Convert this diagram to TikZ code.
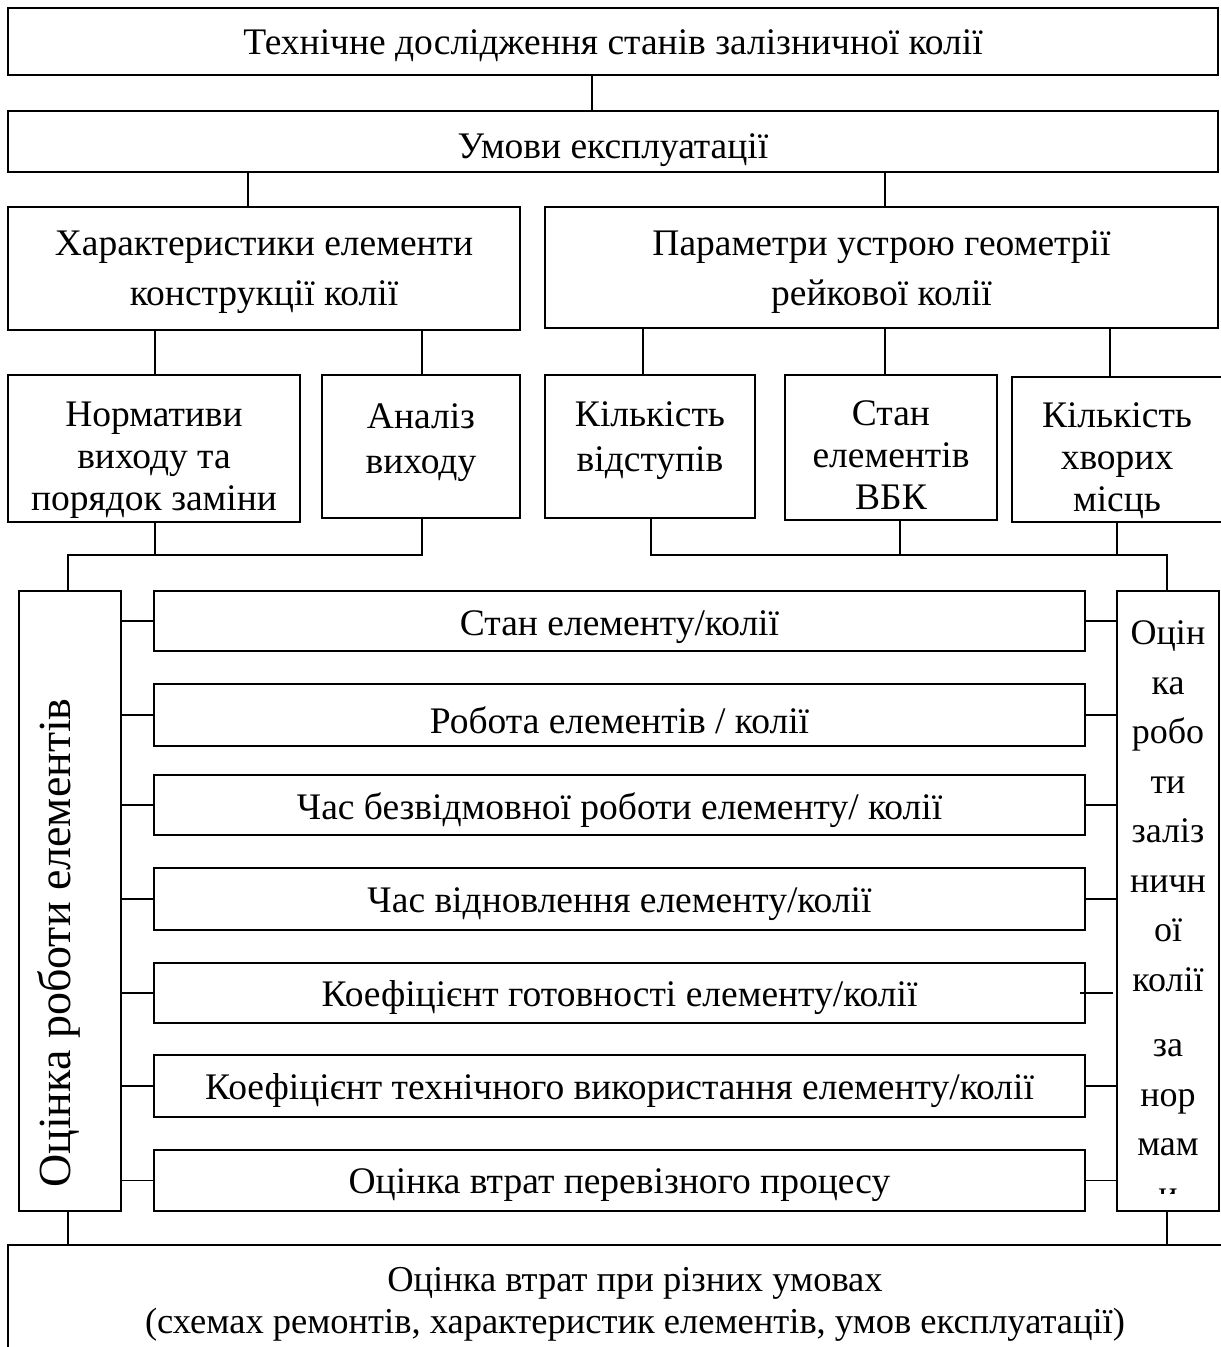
\documentclass[tikz,border=0pt]{standalone}
\usepackage{fontspec}
\setmainfont{Liberation Serif}
% #1 name, #2-#5 corners, #6 text centre y, #7 text
\newcommand\mybox[7]{%
  \node[box, minimum width={(#4)-(#2)}, minimum height={(#5)-(#3)}] (#1) at ({((#2)+(#4))/2},{((#3)+(#5))/2}) {};
  \node[txt] (#1-t) at (#1.center |- 0,#6) {#7};}
\begin{document}
\begin{tikzpicture}[x=1pt,y=-1pt,
  box/.style={draw, line width=1.9pt, inner sep=0pt, outer sep=0pt},
  txt/.style={inner sep=0pt, outer sep=0pt, align=center, font=\fontsize{37.5}{42}\selectfont},
  conn/.style={line width=1.5pt}]
\clip (0,0) rectangle (1221,1347);
% level 1-2
\mybox{top}{8}{8}{1218}{75}{46}{Технічне дослідження станів залізничної колії}
\mybox{cond}{8}{111}{1218}{172}{150}{Умови експлуатації}
% level 3
\mybox{charL}{8}{207}{520}{330}{272}{Характеристики елементи\\[8pt]конструкції колії}
\mybox{param}{545}{207}{1218}{328}{272}{Параметри устрою геометрії\\[8pt]рейкової колії}
% level 4
\mybox{norm}{8}{375}{300}{522}{460}{Нормативи\\виходу та\\порядок заміни}
\mybox{anal}{322}{375}{520}{518}{443}{Аналіз\\[3pt]виходу}
\mybox{kilv}{545}{375}{755}{518}{441}{Кількість\\[3pt]відступів}
\mybox{stan}{785}{375}{997}{520}{455}{Стан\\елементів\\ВБК}
\node[box, minimum width=424pt, minimum height=145pt] (khv) at (1224,449.5) {};
\node[txt] (khv-t) at (1117,461) {Кількість\\хворих\\місць};
% side columns
\node[box, minimum width=102pt, minimum height=620pt] (leftV) at (70,901) {};
\node[txt, rotate=90, anchor=base, font=\fontsize{46}{50}\selectfont] (lt) at (leftV.center |- 0,943) {Оцінка роботи елементів};
\node[box, minimum width=102pt, minimum height=620pt] (rightV) at (1168,901) {};
\begin{scope}
\clip (1117,591) rectangle (1219,1193);
\node[txt, anchor=north, font=\fontsize{36}{49.5}\selectfont] (rt) at (rightV.center |- 0,621) {Оцін\\ка\\робо\\ти\\заліз\\ничн\\ої\\колії\\[16pt]за\\нор\\мам\\и};
\end{scope}
% middle boxes
\mybox{m1}{154}{591}{1085}{651}{627}{Стан елементу/колії}
\mybox{m2}{154}{684}{1085}{746}{720}{Робота елементів / колії}
\mybox{m3}{154}{775}{1085}{835}{810}{Час безвідмовної роботи елементу/ колії}
\mybox{m4}{154}{868}{1085}{930}{904}{Час відновлення елементу/колії}
\mybox{m5}{154}{963}{1085}{1023}{998}{Коефіцієнт готовності елементу/колії}
\mybox{m6}{154}{1055}{1085}{1117}{1091}{Коефіцієнт технічного використання елементу/колії}
\mybox{m7}{154}{1150}{1085}{1211}{1185}{Оцінка втрат перевізного процесу}
% bottom
\node[box, minimum width=1254pt, minimum height=112pt] (bot) at (635,1301) {};
\node[txt, font=\fontsize{36.5}{42}\selectfont] (bot-t) at (635,1304) {Оцінка втрат при різних умовах\\(схемах ремонтів, характеристик елементів, умов експлуатації)};
% connectors
\coordinate (jl) at (0,555);
\coordinate (jr) at (0,555);
\draw[conn] (592,0 |- top.south) -- (592,0 |- cond.north);
\draw[conn] (248,0 |- cond.south) -- (248,0 |- charL.north);
\draw[conn] (885,0 |- cond.south) -- (885,0 |- param.north);
\draw[conn] (155,0 |- charL.south) -- (155,0 |- norm.north);
\draw[conn] (422,0 |- charL.south) -- (422,0 |- anal.north);
\draw[conn] (643,0 |- param.south) -- (643,0 |- kilv.north);
\draw[conn] (885,0 |- param.south) -- (885,0 |- stan.north);
\draw[conn] (1110,0 |- param.south) -- (1110,0 |- khv.north);
\draw[conn] (155,0 |- norm.south) -- (155,0 |- jl);
\draw[conn] (422,0 |- anal.south) |- (68,0 |- jl) -- (68,0 |- leftV.north);
\draw[conn] (651,0 |- kilv.south) |- (1167,0 |- jr) -- (1167,0 |- rightV.north);
\draw[conn] (900,0 |- stan.south) -- (900,0 |- jr);
\draw[conn] (1117,0 |- khv.south) -- (1117,0 |- jr);
\foreach \m in {m1,m2,m3,m4,m6,m7}{
  \draw[conn] (leftV.east |- \m.west) -- (\m.west);
  \draw[conn] (\m.east) -- (rightV.west |- \m.east);
}
\draw[conn] (leftV.east |- m5.west) -- (m5.west);
\draw[conn] ([xshift=-5pt]m5.east) -- ([xshift=-4pt]rightV.west |- m5.east);
\draw[conn] (68,0 |- leftV.south) -- (68,0 |- bot.north);
\draw[conn] (1167,0 |- rightV.south) -- (1167,0 |- bot.north);
\end{tikzpicture}
\end{document}
